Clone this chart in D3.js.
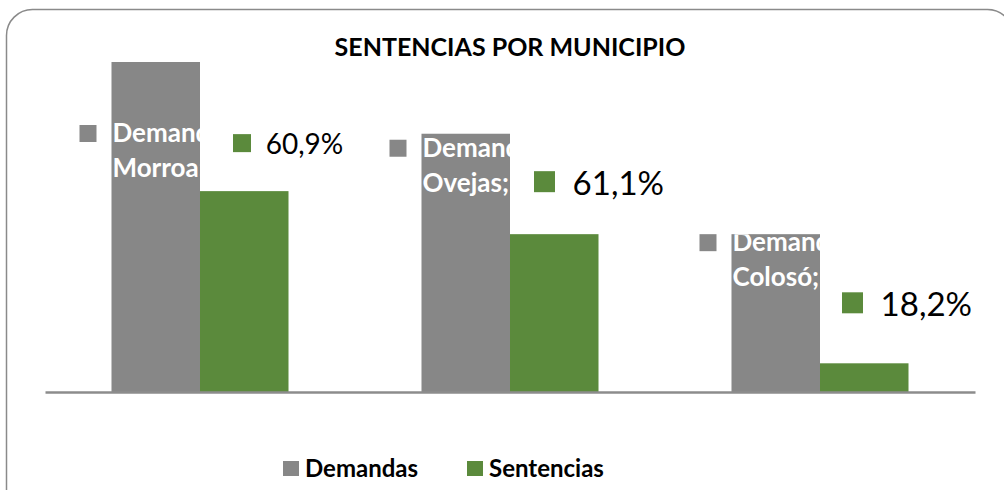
<!DOCTYPE html>
<html>
<head>
<meta charset="utf-8">
<script src="https://cdn.jsdelivr.net/npm/d3@7"></script>
<style>
  body { margin: 0; background: #fff; }
  svg { display: block; font-family: Lato, "Liberation Sans", sans-serif; }
</style>
</head>
<body>
<div class="chart"></div>
<script>
var svgWidth = 1004;
var svgHeight = 490;

// data
var municipios = ["Morroa", "Ovejas", "Colosó"];
var series = ["Demandas", "Sentencias"];
var demandas = [230, 180, 110];
var sentencias = [140, 110, 20];

var colors = { Demandas: "#878787", Sentencias: "#5b8a3c" };

// label placement (Excel labels were moved by hand)
var demLabelDy = [80, 23, 17];          // baseline below bar top
var sentLabelDx = [33, 24, 22];         // marker left from bar left
var sentLabelDy = [-37, -39, -47];      // baseline from bar top
var sentLabelSize = [28, 33, 33];

var svg = d3.select(".chart")
  .append("svg")
  .attr("width", svgWidth)
  .attr("height", svgHeight);

// rounded chart frame
svg.append("rect")
  .attr("x", 6.5)
  .attr("y", 9.5)
  .attr("width", 1007)
  .attr("height", 520)
  .attr("rx", 26)
  .attr("fill", "#fff")
  .attr("stroke", "#8a8a8a")
  .attr("stroke-width", 1.5);

var x0 = d3.scaleBand()
  .domain(municipios)
  .range([45, 975])
  .paddingInner(0.429)
  .paddingOuter(0.2145);

var x1 = d3.scaleBand()
  .domain(series)
  .range([0, x0.bandwidth()]);

var y = d3.scaleLinear()
  .domain([0, 250])
  .range([392, 33.3]);

var rows = municipios.map(function(m, i) {
  return { municipio: m, Demandas: demandas[i], Sentencias: sentencias[i], i: i };
});

// title
svg.append("text")
  .attr("x", 510)
  .attr("y", 56)
  .attr("text-anchor", "middle")
  .attr("font-size", 25)
  .attr("font-weight", "bold")
  .attr("fill", "#000")
  .text("SENTENCIAS POR MUNICIPIO");

var groups = svg.selectAll("g.grp")
  .data(rows)
  .enter()
  .append("g")
  .attr("class", "grp")
  .attr("transform", d => `translate(${x0(d.municipio)},0)`);

groups.selectAll("rect")
  .data(d => series.map(s => ({ key: s, value: d[s], m: d.municipio })))
  .enter()
  .append("rect")
  .attr("x", d => x1(d.key))
  .attr("y", d => y(d.value))
  .attr("width", x1.bandwidth())
  .attr("height", d => y(0) - y(d.value))
  .attr("fill", d => colors[d.key]);

// axis line
var bottomAxis = d3.axisBottom(x0).tickSize(0).tickSizeOuter(0).tickFormat("");
var axisG = svg.append("g")
  .attr("transform", "translate(0,392)")
  .call(bottomAxis);
axisG.select(".domain").attr("stroke", "#8c8c8c").attr("stroke-width", 2.5);
axisG.selectAll(".tick").remove();

// Demandas data labels: white text, only visible on the bar
var defs = svg.append("defs");
rows.forEach(function(d, i) {
  var bx = x0(d.municipio) + x1("Demandas");
  var top = y(d.Demandas);
  defs.append("clipPath")
    .attr("id", "clipDem" + i)
    .append("rect")
    .attr("x", bx)
    .attr("y", top)
    .attr("width", x1.bandwidth() + 1)
    .attr("height", y(0) - top);

  var base = top + demLabelDy[i];
  svg.append("rect")
    .attr("x", bx - 32)
    .attr("y", base - 17)
    .attr("width", 17)
    .attr("height", 17)
    .attr("fill", colors.Demandas);

  var t = svg.append("text")
    .attr("clip-path", "url(#clipDem" + i + ")")
    .attr("font-size", 26)
    .attr("font-weight", "bold")
    .attr("fill", "#fff");
  t.append("tspan").attr("x", bx + 1).attr("y", base).text("Demandas;");
  t.append("tspan").attr("x", bx + 1).attr("y", base + 35).text(d.municipio + "; " + d.Demandas);
});

// Sentencias data labels: percentage of demandas
var pct = d3.formatLocale({ decimal: ",", thousands: ".", grouping: [3], currency: ["", ""] }).format(".1%");
rows.forEach(function(d, i) {
  var bx = x0(d.municipio) + x1("Sentencias");
  var top = y(d.Sentencias);
  var base = top + sentLabelDy[i];
  var fs = sentLabelSize[i];
  var ms = Math.round(fs * 0.64);
  var mx = bx + sentLabelDx[i];
  svg.append("rect")
    .attr("x", mx)
    .attr("y", base - ms - Math.round(fs * 0.08))
    .attr("width", ms)
    .attr("height", ms)
    .attr("fill", colors.Sentencias);
  svg.append("text")
    .attr("x", mx + fs * 1.17)
    .attr("y", base)
    .attr("font-size", fs)
    .attr("fill", "#000")
    .text(pct(d.Sentencias / d.Demandas));
});

// legend
var legendX = [283, 467];
var legend = svg.selectAll("g.legend")
  .data(series)
  .enter()
  .append("g")
  .attr("class", "legend")
  .attr("transform", (d, i) => `translate(${legendX[i]},461)`);
legend.append("rect")
  .attr("width", 16)
  .attr("height", 15)
  .attr("fill", d => colors[d]);
legend.append("text")
  .attr("x", 22)
  .attr("y", 15.5)
  .attr("font-size", 24)
  .attr("font-weight", "bold")
  .attr("fill", "#000")
  .text(d => d);
</script>
</body>
</html>
